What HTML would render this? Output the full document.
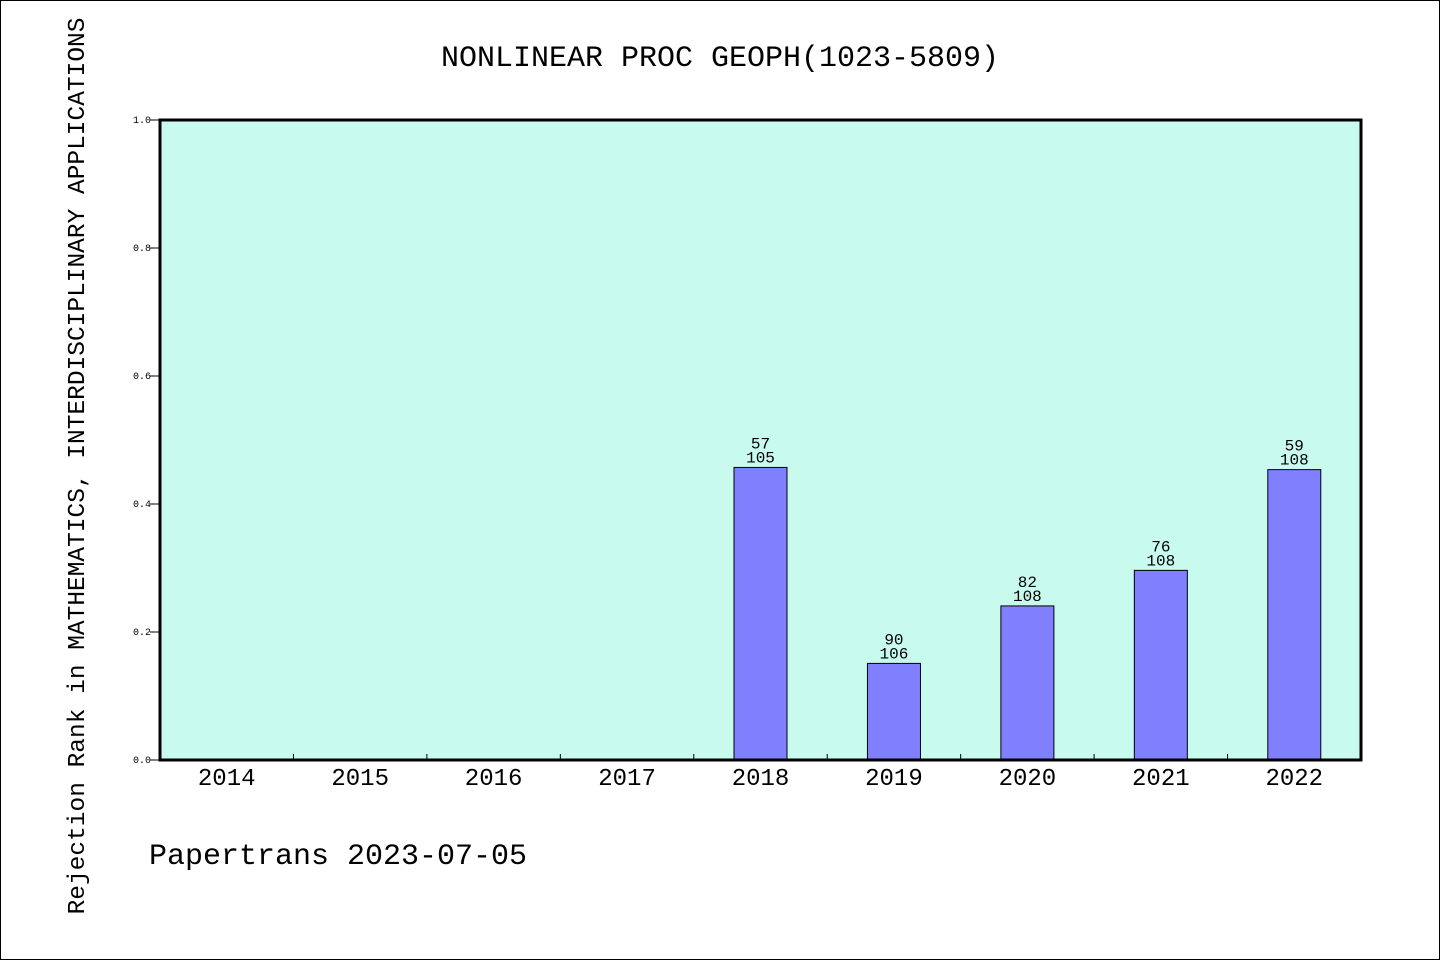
<!DOCTYPE html>
<html><head><meta charset="utf-8"><style>
body{margin:0;width:1440px;height:960px;background:#fff;overflow:hidden}
svg{display:block}
text{font-family:"Liberation Mono",monospace}
</style></head><body>
<svg id="chart" width="1440" height="960">
<rect x="0.5" y="0.5" width="1439" height="959" fill="#fff" stroke="#000"/>
<text x="720" y="66" font-size="30" text-anchor="middle">NONLINEAR PROC GEOPH(1023-5809)</text>
<text transform="translate(84,466) rotate(-90)" font-size="24.5" text-anchor="middle">Rejection Rank in MATHEMATICS, INTERDISCIPLINARY APPLICATIONS</text>
<text x="149" y="864" font-size="30">Papertrans 2023-07-05</text>
<rect x="160" y="120" width="1201" height="640" fill="#c8fbee"/>
<g id="g"></g>
<rect x="160" y="120" width="1201" height="640" fill="none" stroke="#000" stroke-width="3"/>
</svg>
<script>
const categories=["2014","2015","2016","2017","2018","2019","2020","2021","2022"];
const ranks=[null,null,null,null,57,90,82,76,59];
const totals=[null,null,null,null,105,106,108,108,108];
const yTicks=["0.0","0.2","0.4","0.6","0.8","1.0"];
const ns="http://www.w3.org/2000/svg",g=document.getElementById("g");
const X0=160,W=1201,Y0=760,H=640,bw=W/categories.length;
const y=v=>Y0-v*H, xc=i=>X0+bw*(i+0.5);
function mk(t,a,txt){const e=document.createElementNS(ns,t);for(const k in a)e.setAttribute(k,a[k]);if(txt!=null)e.textContent=txt;g.appendChild(e);return e;}
yTicks.forEach(t=>{const v=parseFloat(t);
const l=mk("line",{x1:150,x2:160,y1:y(v),y2:y(v),stroke:"#000"});


const tx=mk("text",{x:151,y:y(v)+3,"font-size":10,"text-anchor":"end"},t);


});
categories.forEach((c,i)=>{
if(i>0){const l=mk("line",{x1:X0+bw*i,x2:X0+bw*i,y1:Y0,y2:Y0-6,stroke:"#000"});

}
const t=mk("text",{x:xc(i),y:785,"font-size":24,"text-anchor":"middle"},c);


if(ranks[i]!=null){const v=1-ranks[i]/totals[i];
const b=mk("rect",{x:xc(i)-26.5,y:y(v),width:53,height:Y0-y(v),fill:"#8080ff",stroke:"#000"});


const t1=mk("text",{x:xc(i),y:y(v)-19,"font-size":16,"text-anchor":"middle"},String(ranks[i]));


const t2=mk("text",{x:xc(i),y:y(v)-5,"font-size":16,"text-anchor":"middle"},String(totals[i]));

}
});
</script>
</body></html>
